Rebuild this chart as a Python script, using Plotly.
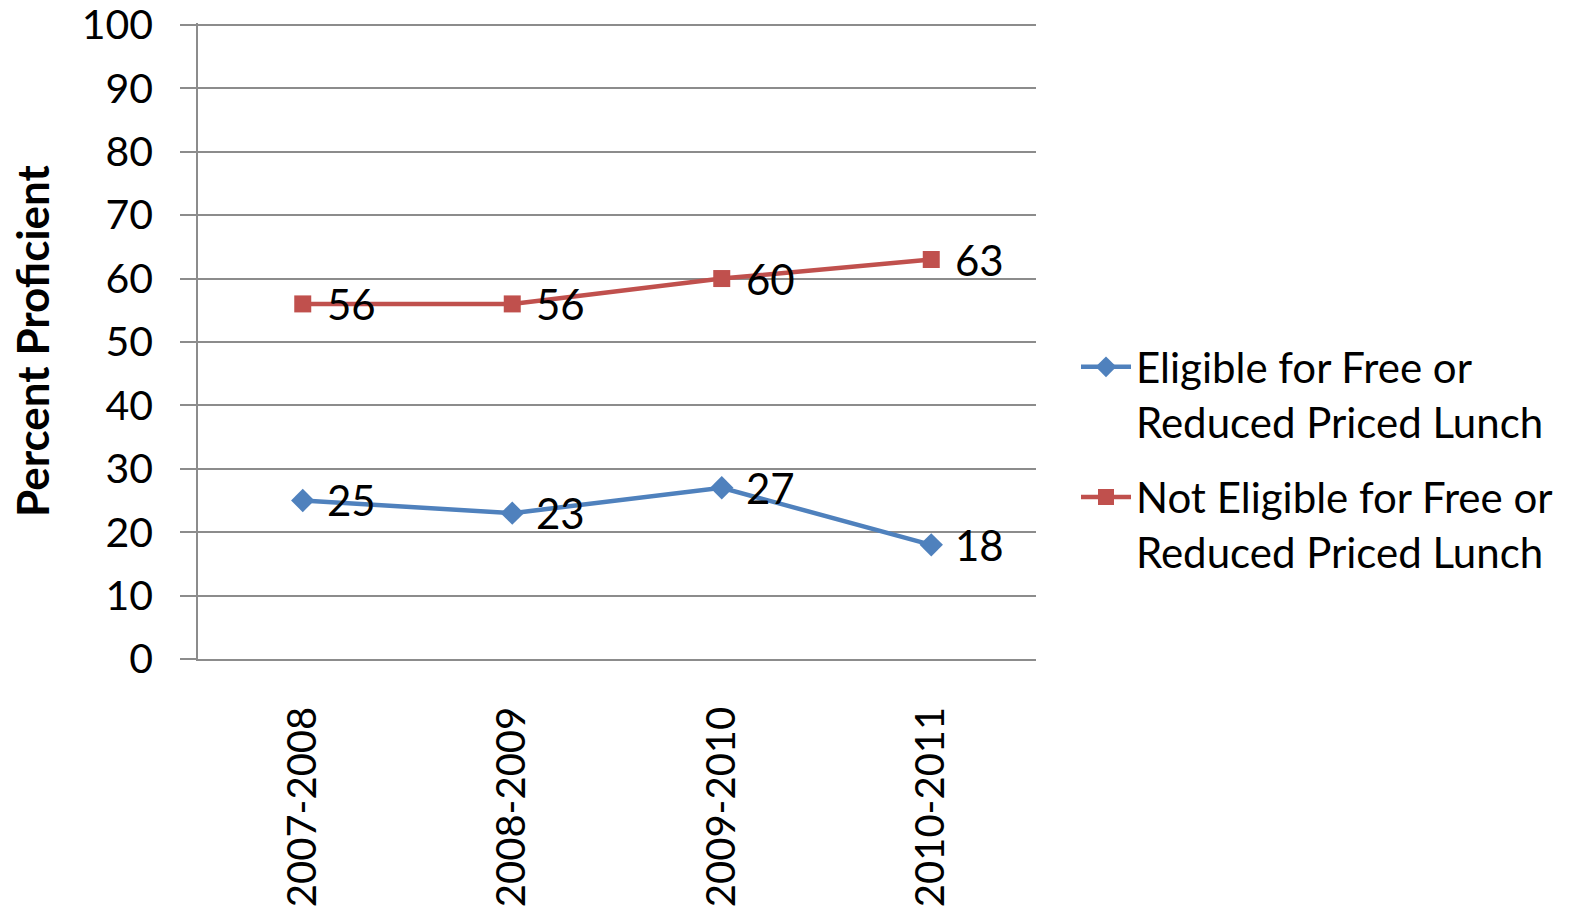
import plotly.graph_objects as go

years = ["2007-2008", "2008-2009", "2009-2010", "2010-2011"]
eligible = [25, 23, 27, 18]
not_eligible = [56, 56, 60, 63]
name_eligible = "Eligible for Free or<br>Reduced Priced Lunch"
name_not_eligible = "Not Eligible for Free or<br>Reduced Priced Lunch"
y_ticks = [0, 10, 20, 30, 40, 50, 60, 70, 80, 90, 100]

FONT = "Lato"
FS = 42
GRID = "#8c8c8c"
BLUE = "#4F81BD"
RED = "#C0504D"

fig = go.Figure()
fig.add_trace(go.Scatter(
    x=years, y=eligible, mode="lines+markers", name=name_eligible,
    legendgroup="a",
    line=dict(color=BLUE, width=4.5),
    marker=dict(symbol="diamond", size=18, color=BLUE),
))
fig.add_trace(go.Scatter(
    x=years, y=not_eligible, mode="lines+markers", name=name_not_eligible,
    legendgroup="b",
    line=dict(color=RED, width=4.5),
    marker=dict(symbol="square", size=17, color=RED),
))

for series in (eligible, not_eligible):
    for yr, v in zip(years, series):
        fig.add_annotation(x=yr, y=v, text=str(v), showarrow=False,
                           xanchor="left", yanchor="middle", xshift=22,
                           font=dict(family=FONT, size=FS, color="black"))

fig.update_layout(
    width=1592, height=911,
    margin=dict(l=198, r=556, t=23, b=252),
    plot_bgcolor="white", paper_bgcolor="white",
    font=dict(family=FONT, size=FS, color="black"),
    showlegend=True,
    legend=dict(
        xref="container", yref="container",
        x=1076 / 1592, y=1 - 333 / 911, xanchor="left", yanchor="top",
        font=dict(family=FONT, size=FS, color="black"),
        valign="top", bgcolor="rgba(0,0,0,0)",
        tracegroupgap=18, itemwidth=50,
    ),
    xaxis=dict(
        type="category", range=[-0.5, 3.5], automargin=False,
        showgrid=False, ticks="", tickangle=-90,
        showline=True, linecolor=GRID, linewidth=1.5,
        ticklabelstandoff=30, ticklabeloverflow="allow",
        tickfont=dict(family=FONT, size=40),
    ),
    yaxis=dict(
        range=[0, 100.3], tickvals=y_ticks, automargin=False,
        showgrid=True, gridcolor=GRID, gridwidth=1.5,
        zeroline=False,
        ticks="outside", ticklen=16, tickcolor=GRID, tickwidth=1.5,
        showline=True, linecolor=GRID, linewidth=1.5,
        ticklabelstandoff=19, ticklabeloverflow="allow",
        tickfont=dict(family=FONT, size=41),
        title=dict(text="<b>Percent Proficient</b>",
                   font=dict(family=FONT, size=44), standoff=18),
    ),
)

fig.write_html("out.html", config={"displayModeBar": False},
               post_script="document.body.style.margin='0';")
